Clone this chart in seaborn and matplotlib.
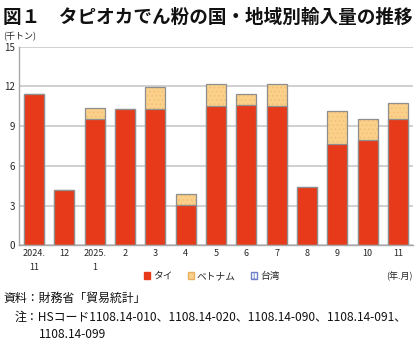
import numpy as np
import pandas as pd
import matplotlib
matplotlib.use("Agg")
import matplotlib.pyplot as plt
import seaborn as sns
from matplotlib.patches import Patch

months = ["2024.\n11", "12", "2025.\n1", "2", "3", "4", "5", "6", "7", "8", "9", "10", "11"]
thai = [11.4, 4.2, 9.56, 10.32, 10.30, 3.04, 10.50, 10.60, 10.54, 4.40, 7.65, 7.98, 9.56]
vietnam = [0.0, 0.0, 0.83, 0.0, 1.63, 0.83, 1.66, 0.83, 1.64, 0.0, 2.52, 1.58, 1.16]
taiwan = [0.0, 0.0, 0.0, 0.0, 0.0, 0.0, 0.0, 0.0, 0.0, 0.0, 0.0, 0.0, 0.0]
yticks = [0, 3, 6, 9, 12, 15]
series_names = ["タイ", "ベトナム", "台湾"]

sns.set_theme(style="white")
plt.rcParams['font.family'] = ['Noto Sans CJK JP', 'DejaVu Sans']
plt.rcParams['hatch.linewidth'] = 0.6

c_thai = "#E63A1A"
c_viet = "#FAD08A"
c_taiwan = "#C9D3F0"
edge = "#8E8E8E"

df = pd.DataFrame({"month": months, "thai": thai, "vietnam": vietnam, "taiwan": taiwan})
df["tv"] = df["thai"] + df["vietnam"]
df["total"] = df["tv"] + df["taiwan"]

fig = plt.figure(figsize=(4.2, 3.45), dpi=100)
ax = fig.add_axes([19/420, 1-245.3/345, (413-19)/420, (245.3-46.7)/345])

bw = 0.66
# Vietnam layer (hatched fill)
sns.barplot(data=df, x="month", y="tv", color=c_viet, width=bw, ax=ax,
            edgecolor="#F2BE72", linewidth=0, saturation=1, hatch="....", order=months)
# outline for stacked total
sns.barplot(data=df, x="month", y="tv", fill=False, width=bw, ax=ax,
            edgecolor=edge, linewidth=0.9, order=months)
# Thai layer
sns.barplot(data=df, x="month", y="thai", color=c_thai, width=bw, ax=ax,
            edgecolor=edge, linewidth=0.9, saturation=1, order=months)

ax.set_ylim(0, 15)
ax.set_xlim(-0.5, len(months) - 0.5)
ax.set_yticks(yticks)
ax.set_yticklabels([str(v) for v in yticks], fontsize=7)
ax.yaxis.grid(True, color="#C4C4C4", linewidth=1.1)
ax.set_axisbelow(True)
ax.set_xlabel("")
ax.set_ylabel("")
ax.tick_params(axis="x", labelsize=6.5, length=0, pad=3)
ax.tick_params(axis="y", length=0, pad=3)
for s in ["top", "right"]:
    ax.spines[s].set_visible(False)
ax.spines["left"].set_color("#A8A8A8")
ax.spines["bottom"].set_color("#A8A8A8")
ax.spines["left"].set_linewidth(1.0)
ax.spines["bottom"].set_linewidth(1.0)
for lab in ax.get_xticklabels():
    lab.set_linespacing(1.6)

# legend
handles = [Patch(facecolor=c_thai, edgecolor=c_thai),
           Patch(facecolor=c_viet, edgecolor="#E8B060"),
           Patch(facecolor="white", edgecolor="#6C7FC8", hatch="++")]
fig.legend(handles, series_names, loc="center", bbox_to_anchor=(212/420, 1-276/345),
           ncol=3, frameon=False, fontsize=7, handlelength=0.6, handleheight=0.6,
           handletextpad=0.3, columnspacing=1.6, borderaxespad=0)

fig.text(413/420, 1-276/345, "(年.月)", ha="right", va="center", fontsize=6.5, color="#222222")
fig.text(3/420, 1-37/345, "(千トン)", ha="left", va="center", fontsize=6.5, color="#222222")

fig.text(3/420, 1-17/345, "図１　タピオカでん粉の国・地域別輸入量の推移", ha="left", va="center",
         fontsize=13.4, fontweight="bold", color="#111111")

fig.text(3/420, 1-298/345, "資料：財務省「貿易統計」", ha="left", va="center", fontsize=8.6, color="#111111")
fig.text(15/420, 1-317/345, "注：HSコード1108.14-010、1108.14-020、1108.14-090、1108.14-091、",
         ha="left", va="center", fontsize=8.6, color="#111111")
fig.text(39/420, 1-335/345, "1108.14-099", ha="left", va="center", fontsize=8.6, color="#111111")

fig.savefig("out.png", dpi=100)
